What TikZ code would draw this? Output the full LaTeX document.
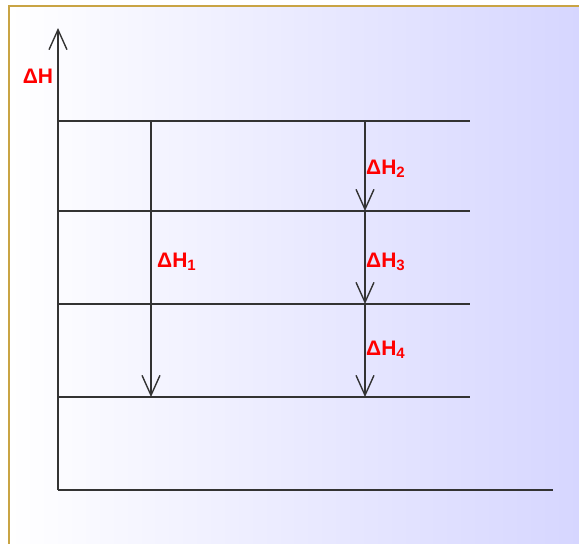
\documentclass[tikz,border=0pt]{standalone}
\usepackage{fontspec}
\setmainfont{Liberation Sans}
\usetikzlibrary{arrows.meta}
\definecolor{lav}{HTML}{D6D6FF}
\definecolor{goldb}{HTML}{C9A444}
\definecolor{ln}{HTML}{333333}
\tikzset{
  lvl/.style={draw=ln, line width=1.6pt},
  dh/.style={draw=ln, line width=1.6pt, -{Straight Barb[length=20pt,width=18pt,line width=1.4pt]}},
  lab/.style={text=red, font=\fontsize{21}{24}\selectfont\bfseries, inner sep=0pt}
}
\newcommand{\mysub}[1]{\raisebox{-0.25ex}{\fontsize{15}{16}\selectfont #1}}
\begin{document}
\begin{tikzpicture}[x=1pt,y=-1pt]
\useasboundingbox (0,0) rectangle (579,544);
\fill[white] (0,0) rectangle (579,544);
\shade[left color=white, right color=lav] (9,6) rectangle (579,544);
\draw[goldb, line width=1.5pt] (9,544) -- (9,6) -- (579,6);
% axes
\coordinate (o) at (58,490);
\coordinate (ytop) at (58,28);
\coordinate (xend) at (553,490);
\draw[dh] (o) -- (ytop);
\draw[lvl] (o) -- (xend);
% levels
\coordinate (a1) at (58,121); \coordinate (a2) at (470,121);
\coordinate (b1) at (58,211); \coordinate (b2) at (470,211);
\coordinate (c1) at (58,304); \coordinate (c2) at (470,304);
\coordinate (d1) at (58,397); \coordinate (d2) at (470,397);
\draw[lvl] (a1) -- (a2);
\draw[lvl] (b1) -- (b2);
\draw[lvl] (c1) -- (c2);
\draw[lvl] (d1) -- (d2);
% arrows
\coordinate (p1) at (151,121); \coordinate (p2) at (151,397);
\coordinate (q1) at (365,121); \coordinate (q2) at (365,211);
\coordinate (q3) at (365,304); \coordinate (q4) at (365,397);
\draw[dh] (p1) -- (p2);
\draw[dh] (q1) -- (q2);
\draw[dh] (q2) -- (q3);
\draw[dh] (q3) -- (q4);
% labels
\node[lab] (lH) at (38,76) {ΔH};
\node[lab, anchor=west] (l1) at (157,262) {ΔH\mysub{1}};
\node[lab, anchor=west] (l2) at (366,169) {ΔH\mysub{2}};
\node[lab, anchor=west] (l3) at (366,262) {ΔH\mysub{3}};
\node[lab, anchor=west] (l4) at (366,350) {ΔH\mysub{4}};
\end{tikzpicture}
\end{document}
